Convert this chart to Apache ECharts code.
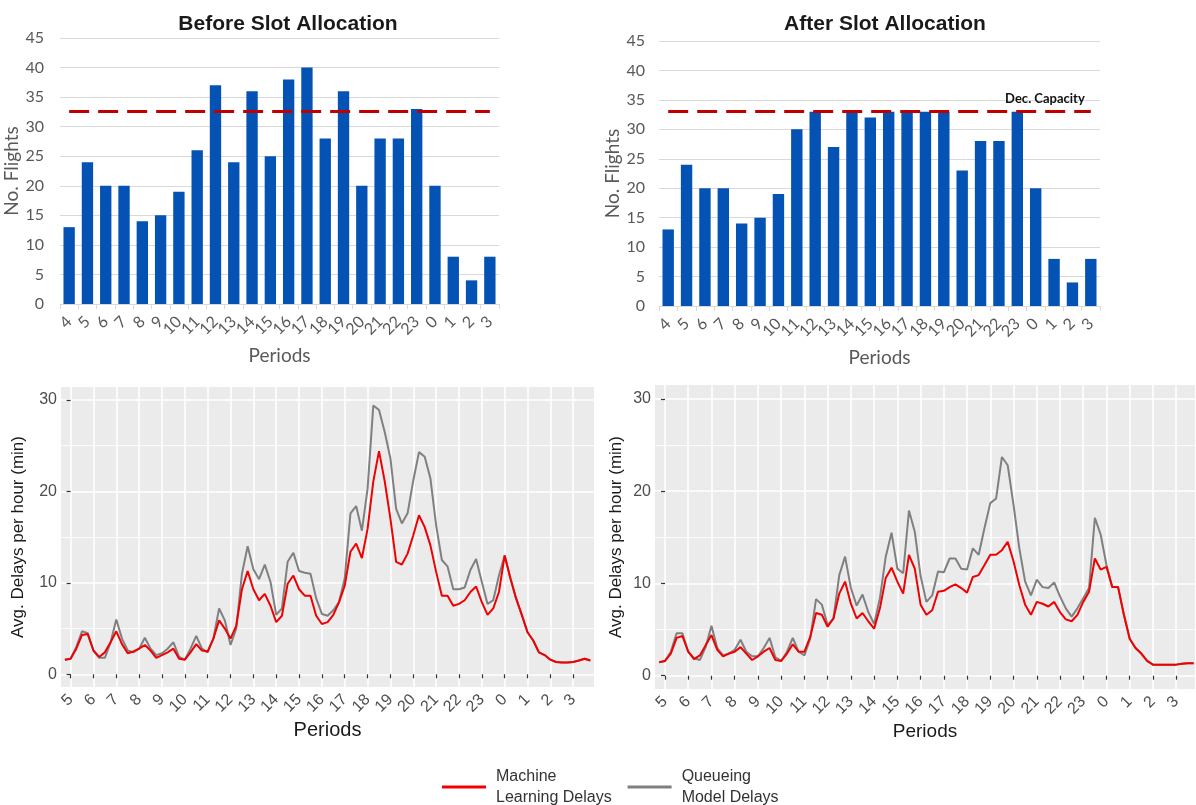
<!DOCTYPE html>
<html><head><meta charset="utf-8">
<script src="https://cdn.jsdelivr.net/npm/echarts@6/dist/echarts.min.js"></script>
<style>html,body{margin:0;padding:0;background:#fff}#c{width:1196px;height:805px}</style>
</head><body><div id="c"></div>
<script>
// ---- data ----
const periods = ['4','5','6','7','8','9','10','11','12','13','14','15','16','17','18','19','20','21','22','23','0','1','2','3'];
const flightsBefore = [13,24,20,20,14,15,19,26,37,24,36,25,38,40,28,36,20,28,28,33,20,8,4,8];
const flightsAfter  = [13,24,20,20,14,15,19,30,33,27,33,32,33,33,33,33,23,28,28,33,20,8,4,8];
const capacityBefore = 32.6;
const capacityAfter = 33;
const hourLabels = ['5','6','7','8','9','10','11','12','13','14','15','16','17','18','19','20','21','22','23','0','1','2','3'];
const yTicksDelay = [0,10,20,30];
const yMinorDelay = [5,15,25];
// quarter-hour series, first point at 4:45
const mlBefore = [1.6,
 1.7,2.8,4.3,4.4, 2.6,1.9,2.4,3.5, 4.7,3.3,2.3,2.5, 2.8,3.2,2.6,1.8,
 2.1,2.4,2.8,1.7, 1.6,2.4,3.3,2.6, 2.5,3.9,5.9,5.0, 3.9,5.3,9.3,11.3,
 9.3,8.1,8.8,7.5, 5.7,6.4,9.9,10.8, 9.3,8.6,8.6,6.4, 5.5,5.7,6.5,7.9,
 9.7,13.4,14.3,12.7, 15.9,21.1,24.4,21.1, 17.0,12.3,12.0,13.2, 15.2,17.4,16.1,14.1,
 11.2,8.6,8.6,7.5, 7.7,8.1,9.0,9.6, 7.9,6.5,7.2,9.0, 13.0,10.5,8.3,6.5,
 4.6,3.7,2.4,2.1, 1.6,1.35,1.3,1.3, 1.35,1.5,1.7,1.5];
const qmBefore = [1.6,
 1.7,3.0,4.7,4.5, 2.6,1.8,1.8,3.5, 6.0,3.9,2.6,2.4, 2.8,4.0,2.8,2.1,
 2.3,2.8,3.5,1.9, 1.6,2.8,4.2,2.8, 2.4,3.9,7.2,5.9, 3.2,5.0,11.0,14.0,
 11.5,10.4,12.0,10.1, 6.5,7.2,12.3,13.3, 11.3,11.1,11.0,8.3, 6.6,6.4,7.0,7.9,
 10.5,17.6,18.4,15.7, 20.3,29.4,28.9,26.5, 23.6,18.1,16.5,17.6, 21.2,24.3,23.8,21.4,
 16.3,12.5,11.8,9.3, 9.3,9.5,11.4,12.6, 10.1,7.7,8.1,10.8, 13.0,10.5,8.3,6.5,
 4.6,3.7,2.4,2.1, 1.6,1.35,1.3,1.3, 1.35,1.5,1.7,1.5];
const mlAfter = [1.45,
 1.6,2.4,4.1,4.3, 2.6,1.8,2.2,3.3, 4.4,2.8,2.1,2.4, 2.6,3.1,2.4,1.7,
 2.1,2.6,3.0,1.7, 1.6,2.4,3.4,2.6, 2.6,4.2,6.8,6.6, 5.3,6.2,8.9,10.2,
 7.8,6.2,6.8,5.9, 5.1,7.3,10.6,11.7, 10.2,8.9,13.1,11.6, 7.7,6.6,7.1,9.1,
 9.2,9.6,9.9,9.5, 9.0,10.7,10.9,12.0, 13.1,13.1,13.6,14.5, 12.4,9.8,7.7,6.6,
 8.0,7.8,7.5,8.0, 6.9,6.1,5.9,6.6, 8.0,9.1,12.7,11.5, 11.8,9.6,9.6,6.6,
 4.0,3.0,2.4,1.6, 1.2,1.2,1.2,1.2, 1.2,1.3,1.35,1.35];
const qmAfter = [1.45,
 1.6,2.6,4.6,4.6, 2.6,1.9,1.7,3.1, 5.4,3.0,2.2,2.4, 2.8,3.9,2.6,2.1,
 2.1,3.0,4.1,2.0, 1.6,2.6,4.1,2.6, 2.2,4.0,8.3,7.7, 5.5,6.2,10.9,12.9,
 9.5,7.6,8.8,6.9, 5.6,8.4,12.9,15.5, 11.6,11.1,17.9,15.6, 10.8,8.0,8.7,11.3,
 11.2,12.7,12.7,11.6, 11.5,13.8,13.1,16.0, 18.7,19.2,23.7,22.8, 18.5,13.8,10.2,8.7,
 10.4,9.6,9.5,10.1, 8.6,7.3,6.4,7.3, 8.4,9.5,17.1,15.3, 12.0,9.6,9.6,6.6,
 4.0,3.0,2.4,1.6, 1.2,1.2,1.2,1.2, 1.2,1.3,1.35,1.35];

// ---- helpers ----
const hourIdx = hourLabels.map((_, i) => i);
const toPairs = arr => arr.map((v, i) => [i * 0.25 - 0.25, v]);
const excelFont = 'Lato';
const ggFont = 'Liberation Sans';

function barX(grid) {
  return {
    type: 'category', gridIndex: grid, data: periods,
    axisLine: {show: true, lineStyle: {color: '#d9d9d9', width: 1}},
    axisTick: {show: true, length: 5, lineStyle: {color: '#d9d9d9'}},
    axisLabel: {rotate: 45, fontSize: 16, color: '#595959', fontFamily: excelFont, margin: 15, interval: 0},
    name: 'Periods', nameLocation: 'middle', nameGap: 42,
    nameTextStyle: {fontSize: 19, color: '#595959', fontFamily: excelFont}
  };
}
function barY(grid, gap, margin) {
  return {
    type: 'value', gridIndex: grid, min: 0, max: 45, interval: 5,
    axisLine: {show: false}, axisTick: {show: false},
    axisLabel: {fontSize: 16, color: '#595959', fontFamily: excelFont, margin: margin},
    splitLine: {lineStyle: {color: '#d9d9d9', width: 1}},
    name: 'No. Flights', nameLocation: 'middle', nameGap: gap,
    nameTextStyle: {fontSize: 19, color: '#595959', fontFamily: excelFont}
  };
}
function lineX(grid, min, max, nameSize) {
  return {
    type: 'value', gridIndex: grid, min: min, max: max,
    axisLine: {show: false},
    axisTick: {show: true, customValues: hourIdx, length: 4, lineStyle: {color: '#333', width: 1.2}},
    axisLabel: {customValues: hourIdx, formatter: v => hourLabels[Math.round(v)], rotate: 45,
      fontSize: 16, color: '#4d4d4d', fontFamily: ggFont, margin: 10},
    splitLine: {show: true, lineStyle: {color: '#ffffff', width: 1.6}},
    name: 'Periods', nameLocation: 'middle', nameGap: 33,
    nameTextStyle: {fontSize: nameSize, color: '#1a1a1a', fontFamily: ggFont}
  };
}
function lineY(grid, min, max, gap) {
  return {
    type: 'value', gridIndex: grid, min: min, max: max,
    axisLine: {show: false},
    axisTick: {show: true, customValues: yTicksDelay, length: 4, lineStyle: {color: '#333', width: 1.2}},
    axisLabel: {customValues: yTicksDelay, fontSize: 16, color: '#4d4d4d', fontFamily: ggFont, margin: 4},
    splitLine: {show: true, lineStyle: {color: '#ffffff', width: 1.6}},
    name: 'Avg. Delays per hour (min)', nameLocation: 'middle', nameGap: gap,
    nameTextStyle: {fontSize: 17, color: '#1a1a1a', fontFamily: ggFont}
  };
}
function lineYMinor(grid, min, max) {
  return {
    type: 'value', gridIndex: grid, min: min, max: max,
    axisLine: {show: false},
    axisTick: {show: false, customValues: yMinorDelay},
    axisLabel: {show: false, customValues: yMinorDelay},
    splitLine: {show: true, lineStyle: {color: '#ffffff', width: 0.8}}
  };
}
function capLine(val, last, withLabel) {
  return {
    symbol: 'none', silent: true,
    lineStyle: {color: '#C00000', width: 3, type: [20, 9]},
    label: withLabel ? {show: true, position: 'insideEndTop', formatter: 'Dec. Capacity',
      fontWeight: 'bold', fontSize: 13, color: '#111', fontFamily: excelFont, distance: 6} : {show: false},
    data: [[{coord: [periods[0], val]}, {coord: [last, val]}]]
  };
}

const chart = echarts.init(document.getElementById('c'), null, {renderer: 'canvas'});
chart.setOption({
  animation: false,
  backgroundColor: '#ffffff',
  title: [
    {text: 'Before Slot Allocation', left: 283, top: 9, textAlign: 'center',
     textStyle: {fontSize: 21, fontWeight: 'bold', color: '#1a1a1a', fontFamily: ggFont}},
    {text: 'After Slot Allocation', left: 880, top: 9, textAlign: 'center',
     textStyle: {fontSize: 21, fontWeight: 'bold', color: '#1a1a1a', fontFamily: ggFont}}
  ],
  legend: {
    data: ['Machine Learning Delays', 'Queueing Model Delays'],
    left: 437, top: 761, icon: 'rect', itemWidth: 44, itemHeight: 3, itemGap: 16,
    textStyle: {fontSize: 16, color: '#333', lineHeight: 21, fontFamily: ggFont, padding: [0, 0, 0, 5]},
    formatter: n => n === 'Machine Learning Delays' ? 'Machine\nLearning Delays' : 'Queueing\nModel Delays'
  },
  grid: [
    {left: 60, top: 38, width: 439, height: 266},
    {left: 659, top: 41, width: 441, height: 265},
    {left: 61, top: 387, width: 533, height: 300, show: true, backgroundColor: '#EBEBEB', borderWidth: 0},
    {left: 655, top: 385, width: 540, height: 304, show: true, backgroundColor: '#EBEBEB', borderWidth: 0}
  ],
  xAxis: [
    barX(0), barX(1),
    lineX(2, -0.42, 22.91, 20),
    lineX(3, -0.43, 22.81, 19)
  ],
  yAxis: [
    barY(0, 34, 16), barY(1, 33, 14),
    lineY(2, -1.39, 31.42, 34),
    lineY(3, -1.44, 31.5, 30),
    lineYMinor(2, -1.39, 31.42),
    lineYMinor(3, -1.44, 31.5)
  ],
  series: [
    {type: 'bar', xAxisIndex: 0, yAxisIndex: 0, data: flightsBefore, barCategoryGap: '38%',
     itemStyle: {color: '#0352B4'}, markLine: capLine(capacityBefore, periods[periods.length - 1], false)},
    {type: 'bar', xAxisIndex: 1, yAxisIndex: 1, data: flightsAfter, barCategoryGap: '38%',
     itemStyle: {color: '#0352B4'}, markLine: capLine(capacityAfter, periods[periods.length - 1], true)},
    {type: 'line', name: 'Queueing Model Delays', xAxisIndex: 2, yAxisIndex: 2, data: toPairs(qmBefore),
     showSymbol: false, color: '#808080', lineStyle: {width: 2, color: '#808080'}},
    {type: 'line', name: 'Machine Learning Delays', xAxisIndex: 2, yAxisIndex: 2, data: toPairs(mlBefore),
     showSymbol: false, color: '#F00000', lineStyle: {width: 2, color: '#F00000'}},
    {type: 'line', name: 'Queueing Model Delays', xAxisIndex: 3, yAxisIndex: 3, data: toPairs(qmAfter),
     showSymbol: false, color: '#808080', lineStyle: {width: 2, color: '#808080'}},
    {type: 'line', name: 'Machine Learning Delays', xAxisIndex: 3, yAxisIndex: 3, data: toPairs(mlAfter),
     showSymbol: false, color: '#F00000', lineStyle: {width: 2, color: '#F00000'}}
  ]
});
</script></body></html>
